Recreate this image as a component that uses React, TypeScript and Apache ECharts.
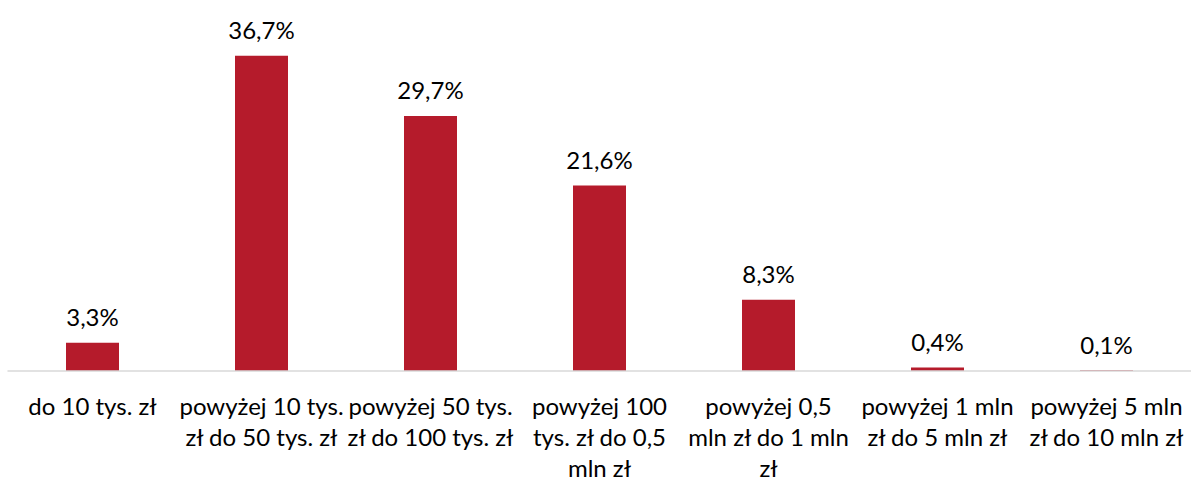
import React, { useEffect, useRef } from "react";
import * as echarts from "echarts";

const categories = [
  "do 10 tys. zł",
  "powyżej 10 tys.\nzł do 50 tys. zł",
  "powyżej 50 tys.\nzł do 100 tys. zł",
  "powyżej 100\ntys. zł do 0,5\nmln zł",
  "powyżej 0,5\nmln zł do 1 mln\nzł",
  "powyżej 1 mln\nzł do 5 mln zł",
  "powyżej 5 mln\nzł do 10 mln zł",
];
const values = [3.3, 36.7, 29.7, 21.6, 8.3, 0.4, 0.1];

const FONT = "Lato, 'Noto Sans', sans-serif";

export default function App() {
  const ref = useRef<HTMLDivElement>(null);
  useEffect(() => {
    if (!ref.current) return;
    const chart = echarts.init(ref.current, null, { renderer: "svg" });
    chart.setOption({
      animation: false,
      backgroundColor: "#ffffff",
      grid: { left: 8, right: -5, top: 27.4, bottom: 110, containLabel: false },
      xAxis: {
        type: "category",
        data: categories,
        z: 3,
        axisLine: { show: true, lineStyle: { color: "#D9D9D9", width: 1.5 } },
        axisTick: { show: false },
        axisLabel: {
          interval: 0,
          color: "#000000",
          fontFamily: FONT,
          fontSize: 24,
          lineHeight: 31,
          margin: 19,
        },
      },
      yAxis: {
        type: "value",
        min: 0,
        max: 40,
        show: false,
        splitLine: { show: false },
      },
      series: [
        {
          type: "bar",
          data: values,
          barWidth: 53,
          itemStyle: { color: "#B51B2B" },
          label: {
            show: true,
            position: "top",
            distance: 14,
            color: "#000000",
            fontFamily: FONT,
            fontSize: 24,
            formatter: (p: any) => String(p.value).replace(".", ",") + "%",
          },
        },
      ],
    });
    return () => chart.dispose();
  }, []);
  return (
    <div
      ref={ref}
      style={{ position: "absolute", left: 0, top: 0, width: 1191, height: 483 }}
    />
  );
}
